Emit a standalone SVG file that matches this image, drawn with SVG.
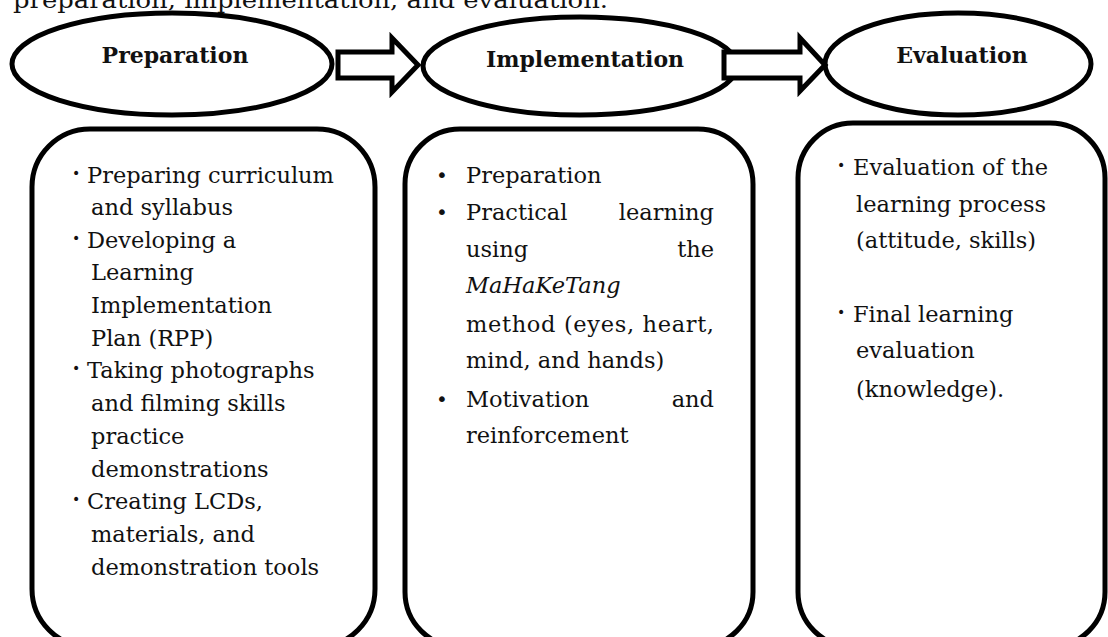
<svg xmlns="http://www.w3.org/2000/svg" width="1108" height="637" viewBox="0 0 1108 637">
  <style>
    .shape { fill: #fff; stroke: #000; stroke-width: 5; }
    .arrow { fill: #fff; stroke: #000; stroke-width: 5; stroke-linejoin: miter; }
    .title { font-family: "DejaVu Serif", "Liberation Serif", serif; font-weight: bold; font-size: 22px; fill: #111; }
    .body { font-family: "DejaVu Serif", "Liberation Serif", serif; font-size: 22.5px; fill: #111; }
    .dot { font-family: "DejaVu Sans", sans-serif; font-size: 14px; fill: #111; }
    .bigdot { font-family: "DejaVu Sans", sans-serif; font-size: 20px; fill: #111; }
    .it { font-style: italic; }
  </style>
  <rect width="1108" height="637" fill="#fff"/>

  <!-- running sentence above the figure -->
  <text class="body" x="13" y="8" textLength="595" lengthAdjust="spacingAndGlyphs">preparation, implementation, and evaluation.</text>

  <!-- activity boxes -->
  <g id="box-preparation">
    <rect class="shape" x="32" y="129" width="343" height="518" rx="58" ry="58"/>
    <g class="body">
      <text x="87" y="183">Preparing curriculum</text>
      <text x="91" y="215">and syllabus</text>
      <text x="87" y="248">Developing a</text>
      <text x="91" y="280">Learning</text>
      <text x="91" y="313">Implementation</text>
      <text x="91" y="346">Plan (RPP)</text>
      <text x="87" y="378">Taking photographs</text>
      <text x="91" y="411">and filming skills</text>
      <text x="91" y="444">practice</text>
      <text x="91" y="477">demonstrations</text>
      <text x="87" y="509">Creating LCDs,</text>
      <text x="91" y="542">materials, and</text>
      <text x="91" y="575">demonstration tools</text>
    </g>
    <g class="dot">
      <text x="72" y="178">•</text>
      <text x="72" y="243">•</text>
      <text x="72" y="373">•</text>
      <text x="72" y="504">•</text>
    </g>
  </g>

  <g id="box-implementation">
    <rect class="shape" x="405" y="129" width="348" height="518" rx="55" ry="55"/>
    <g class="body">
      <text x="466" y="183">Preparation</text>
      <text x="466" y="220">Practical</text>
      <text x="714" y="220" text-anchor="end">learning</text>
      <text x="466" y="257">using</text>
      <text x="714" y="257" text-anchor="end">the</text>
      <text x="466" y="293" class="it">MaHaKeTang</text>
      <text x="466" y="332" textLength="248" lengthAdjust="spacing">method (eyes, heart,</text>
      <text x="466" y="368">mind, and hands)</text>
      <text x="466" y="407">Motivation</text>
      <text x="714" y="407" text-anchor="end">and</text>
      <text x="466" y="443">reinforcement</text>
    </g>
    <g class="bigdot">
      <text x="436" y="182">•</text>
      <text x="436" y="219">•</text>
      <text x="436" y="406">•</text>
    </g>
  </g>

  <g id="box-evaluation">
    <rect class="shape" x="798" y="123" width="307" height="524" rx="55" ry="55"/>
    <g class="body">
      <text x="853" y="175">Evaluation of the</text>
      <text x="856" y="212">learning process</text>
      <text x="856" y="248">(attitude, skills)</text>
      <text x="853" y="322">Final learning</text>
      <text x="856" y="358">evaluation</text>
      <text x="856" y="397">(knowledge).</text>
    </g>
    <g class="dot">
      <text x="837" y="170">•</text>
      <text x="837" y="317">•</text>
    </g>
  </g>

  <!-- stage ellipses -->
  <g id="stage-preparation">
    <ellipse class="shape" cx="172" cy="64" rx="160" ry="51"/>
    <text class="title" x="175" y="63" text-anchor="middle">Preparation</text>
  </g>
  <g id="stage-implementation">
    <ellipse class="shape" cx="580" cy="66" rx="157" ry="49"/>
    <text class="title" x="585" y="67" text-anchor="middle">Implementation</text>
  </g>
  <g id="stage-evaluation">
    <ellipse class="shape" cx="958" cy="64" rx="133" ry="51"/>
    <text class="title" x="962" y="63" text-anchor="middle">Evaluation</text>
  </g>

  <!-- block arrows between stages -->
  <g id="connectors">
    <polygon class="arrow" points="338,52 392,52 392,38 418,65 392,92 392,78 338,78"/>
    <polygon class="arrow" points="724,52 800,52 800,38 825,65 800,91 800,78 724,78"/>
  </g>
</svg>
